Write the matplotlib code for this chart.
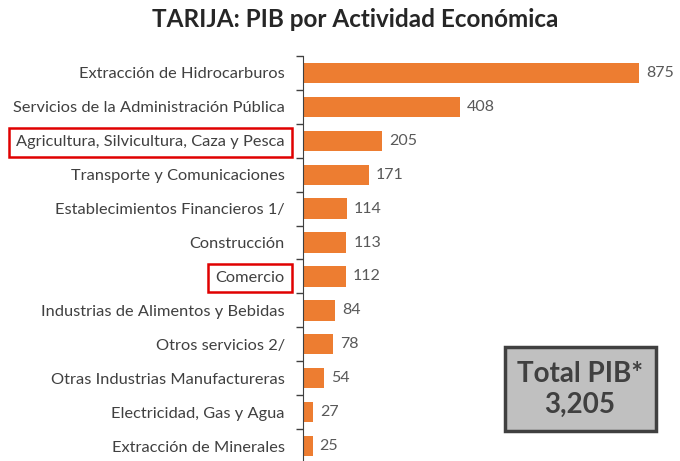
import matplotlib.pyplot as plt
import numpy as np
from matplotlib.patches import FancyBboxPatch

plt.rcParams['font.family'] = ['Lato', 'DejaVu Sans']

sectores = [
    'Extracción de Hidrocarburos',
    'Servicios de la Administración Pública',
    'Agricultura, Silvicultura, Caza y Pesca',
    'Transporte y Comunicaciones',
    'Establecimientos Financieros 1/',
    'Construcción',
    'Comercio',
    'Industrias de Alimentos y Bebidas',
    'Otros servicios 2/',
    'Otras Industrias Manufactureras',
    'Electricidad, Gas y Agua',
    'Extracción de Minerales',
]
valores = [875, 408, 205, 171, 114, 113, 112, 84, 78, 54, 27, 25]
resaltados = ['Agricultura, Silvicultura, Caza y Pesca', 'Comercio']
total_pib = '3,205'

fig = plt.figure(figsize=(6.8, 4.61), dpi=100)
ax = fig.add_axes([0.4456, -0.0043, 0.52, 0.8828])

y = np.arange(len(sectores))
ax.barh(y, valores, height=0.6, color='#ED7D31')
ax.set_ylim(len(sectores) - 0.5, -0.5)
ax.set_xlim(0, 920)

for yi, v in zip(y, valores):
    ax.text(v + 18, yi, str(v), va='center', ha='left', fontsize=11.5, color='#595959')

ax.set_yticks(y)
ax.set_yticklabels(sectores, fontsize=11.8, color='#404040')
ax.set_yticks(np.arange(-0.5, len(sectores), 1), minor=True)
ax.tick_params(axis='y', which='major', length=0, pad=13)
ax.tick_params(axis='y', which='minor', length=5, width=1, color='#404040')
ax.set_xticks([])

for s in ['top', 'right', 'bottom']:
    ax.spines[s].set_visible(False)
ax.spines['left'].set_color('#404040')

for lbl in ax.get_yticklabels():
    if lbl.get_text() in resaltados:
        lbl.set_bbox(dict(boxstyle='square,pad=0.45', facecolor='none',
                          edgecolor='#E00000', linewidth=1.8))

fig.text(0.522, 0.958, 'TARIJA: PIB por Actividad Económica', ha='center', va='center',
         fontsize=17.5, fontweight='bold', color='#262626')

caja = FancyBboxPatch((0.742, 0.065), 0.222, 0.182, boxstyle='square,pad=0',
                      transform=fig.transFigure, facecolor='#C0C0C0',
                      edgecolor='#404040', linewidth=2.5)
fig.patches.append(caja)
fig.text(0.853, 0.155, 'Total PIB*\n' + total_pib, ha='center', va='center',
         fontsize=20, fontweight='bold', color='#404040', linespacing=1.25)

fig.savefig('out.png', dpi=100)
